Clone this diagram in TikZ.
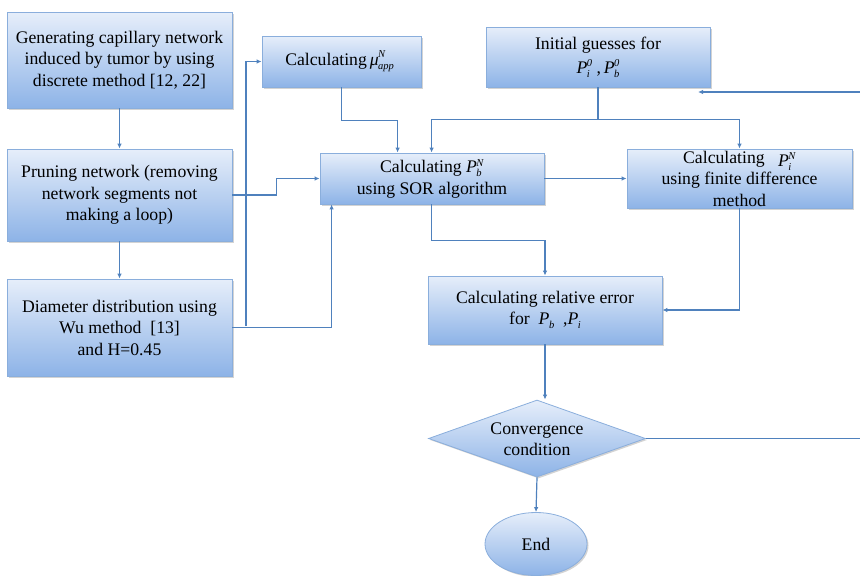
\documentclass[tikz,border=0pt]{standalone}
\usepackage{fontspec}
\setmainfont{Liberation Serif}
\usetikzlibrary{arrows.meta,shapes.geometric,shadows}
\definecolor{topc}{HTML}{E6EEFA}
\definecolor{botc}{HTML}{8DB3E7}
\definecolor{bordc}{HTML}{8AAEDC}
\definecolor{linec}{HTML}{4F81BD}
\newcommand\scr[1]{\fontsize{10.5}{10.5}\selectfont\textit{#1}}
\newcommand\PP[2]{\textit{P}\kern-0.5pt\begingroup\setbox0\hbox{\scr{#1}}\setbox2\hbox{\scr{#2}}%
  \ifdim\wd0>\wd2 \wd2=\wd0\fi\raisebox{-4pt}{\rlap{\box0}}\raisebox{6.5pt}{\box2}\endgroup}
\tikzset{
  boxnode/.style={rectangle, draw=bordc, line width=0.8pt, top color=topc, bottom color=botc,
    inner sep=0pt, align=center, font=\rmfamily\fontsize{17.7}{21.5}\selectfont,
    drop shadow={opacity=0.35, shadow xshift=1.5pt, shadow yshift=-1.5pt}},
  conn/.style={draw=linec, line width=1.2pt},
  arr/.style={conn, -{Latex[length=5pt,width=4.5pt]}}
}
\begin{document}
\begin{tikzpicture}[x=1pt,y=-1pt]
\useasboundingbox (0,0) rectangle (860,576);
\node[boxnode, minimum width=225pt, minimum height=96pt] (A) at (119.5,60)
  {Generating capillary network\\induced by tumor by using\\discrete method [12, 22]};
\node[boxnode, minimum width=225pt, minimum height=92pt] (B) at (119.5,195)
  {Pruning network (removing\\network segments not\\making a loop)};
\node[boxnode, minimum width=225pt, minimum height=97pt] (C) at (119.5,327.5)
  {Diameter distribution using\\Wu method\ \ [13]\\and H=0.45};
\node[boxnode, minimum width=159pt, minimum height=51pt] (mu) at (341.5,61.5)
  {Calculating\,\textit{μ}\kern-0.5pt\raisebox{-4pt}{\rlap{\scr{app}}}\raisebox{8pt}{\scr{N}}\hspace{12pt}};
\node[boxnode, minimum width=224pt, minimum height=60pt, font=\rmfamily\fontsize{17.7}{24}\selectfont] (init) at (598,57)
  {Initial guesses for\\\PP{i}{0}\ ,\,\PP{b}{0}};
\node[boxnode, minimum width=224pt, minimum height=51pt] (sor) at (432,178.5)
  {Calculating \PP{b}{N}\\using SOR algorithm};
\node[boxnode, minimum width=225pt, minimum height=59pt] (fd) at (739.5,178.5)
  {Calculating\ \ \ \raisebox{-3pt}{\PP{i}{N}}\\using finite difference\\method};
\node[boxnode, minimum width=234pt, minimum height=68pt] (rel) at (545,310)
  {Calculating relative error\\for\ \ \PP{b}{}\ \ ,\PP{i}{}};
\node[boxnode, diamond, minimum width=217pt, minimum height=77pt] (dia) at (537,438.5) {};
\node[font=\rmfamily\fontsize{17.7}{21.5}\selectfont, align=center, inner sep=0pt] (diatext) at (537,439)
  {Convergence\\condition};
\node[boxnode, ellipse, minimum width=102pt, minimum height=63pt] (endn) at (536,544) {End};

\coordinate (j1) at (246,326);
\coordinate (rin) at (860,92);
\coordinate (rtip) at (698,92);
\coordinate (rout) at (860,438.5);

\draw[arr] (A) -- (B);
\draw[arr] (B) -- (C);
\draw[arr] (B.east) -- ++(44,0) |- (sor.west);
\draw[arr] (C.east) -| ([xshift=12pt]sor.south west);
\draw[arr] (j1) |- (mu.west);
\draw[arr] (mu.south) -- ++(0,33) -| ([xshift=78pt]sor.north west);
\draw[arr] (init.south) -- ++(0,32) -| ([xshift=112pt]sor.north west);
\draw[arr] (init.south) -- ++(0,32) -| (fd.north);
\draw[arr] (sor.east) -- (fd.west);
\draw[arr] ([xshift=112pt]sor.south west) -- ++(0,36) -| (rel.north);
\draw[arr] (fd.south) |- (rel.east);
\draw[arr] (rel.south) -- (rel.south |- dia.north);
\draw[conn] (dia.east) -- (rout);
\draw[arr] (rin) -- (rtip);
\draw[arr] (dia.south) -- (endn.north);
\end{tikzpicture}
\end{document}
